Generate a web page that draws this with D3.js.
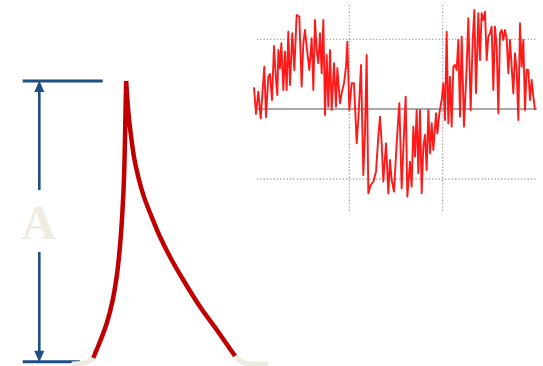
<!DOCTYPE html>
<html><head><meta charset="utf-8">
<script src="https://cdn.jsdelivr.net/npm/d3@7"></script>
<style>html,body{margin:0;padding:0;background:#fff;}svg{display:block;}</style>
</head><body>
<svg id="c" width="543" height="366"></svg>
<script>
// ---- Noisy signal (oscilloscope trace) ----
const sampleIdx = [12,18,25,32,38,43,48,55,60,66,72,78,82,85,90,94,100,105,110,115,120,127,133,140,148,155,160,165,170,178,185,190,195,200,205,210,215,220,225,230,235,240,245,252,258,262,270,275,282,288,292,298,305,312,320,326,333,340,345,350,355,362,370,378,385,390,395,400,408,415,420,425,432,440,448,455,462,467,472,480,485,490,495,500,505,510,515,520,525,530,535,540,545,550,558,562,568,575,580,585,590,595,600,605,610,615,620,625,630,635,642,650,655,662,668,673,678,685,690,695,700,705,710,715,720,725,730,735,740,745,750,755,760,765,770,775,780,785,790,795,800,805,810,815,820,825,830,835,840,845,850,855];
const amplitude = [65,-15,52,-28,57,127,-25,97,105,27,189,87,42,177,122,197,57,172,57,232,72,227,117,282,277,67,197,237,187,117,212,57,267,177,137,227,107,267,-18,162,7,177,-3,137,7,122,17,47,77,127,202,-3,77,77,-103,-13,132,-198,-68,162,-253,-228,-218,-188,-83,-23,-103,-218,-103,-253,-153,-213,-248,-103,17,-238,-73,37,-263,-158,-233,-53,-143,-3,-193,-3,-253,-113,-78,-183,-3,-133,-43,-123,-13,-73,-13,27,77,-33,232,-43,97,-53,127,132,117,207,-23,217,-53,127,272,-3,202,297,47,287,147,287,267,292,147,217,227,247,57,247,187,-13,227,237,207,237,212,107,207,127,47,167,117,-33,257,127,207,-3,117,117,27,87,37,-3];
const gridAmp = [-210, 209];      // dotted horizontal gridlines
const gridSample = [298, 578];    // dotted vertical gridlines

// ---- Pulse (amplitude A) ----
const riseT   = [0, 4.7, 9.5, 13.7, 16.5, 18.8, 20.5, 21.7, 22.4, 22.9, 23.2];
const riseA   = [0.014, 0.071, 0.137, 0.22, 0.303, 0.41, 0.529, 0.659, 0.802, 0.932, 1.0];
const decayT  = [23.2, 24.6, 26.4, 28.7, 31.7, 35.7, 41.1, 47, 54, 63.4, 75.2, 87.1, 100];
const decayA  = [1.0, 0.897, 0.813, 0.73, 0.659, 0.588, 0.517, 0.446, 0.375, 0.292, 0.197, 0.114, 0.02];
const tailLT  = [-15.2, -9.4, -3.7, 0];
const tailLA  = [-0.008, -0.006, 0.001, 0.014];
const tailRT  = [100, 103.5, 108.3, 123.5];
const tailRA  = [0.02, 0.004, -0.006, -0.008];
const ampLabel = "A";

const svg = d3.select("#c");

// scales for signal
const sx = d3.scaleLinear().domain([0, 879]).range([250, 543]);
const sy = d3.scaleLinear().domain([-210, 209]).range([179, 39.3]);

const gGrid = svg.append("g");
gGrid.selectAll("line.h").data(gridAmp).join("line")
  .attr("x1", 257).attr("x2", 537)
  .attr("y1", d => sy(d)).attr("y2", d => sy(d))
  .attr("stroke", "#a6a6a6").attr("stroke-width", 1.3).attr("stroke-dasharray", "1.3,2");
gGrid.selectAll("line.v").data(gridSample).join("line")
  .attr("x1", d => sx(d)).attr("x2", d => sx(d))
  .attr("y1", 5).attr("y2", 213)
  .attr("stroke", "#a6a6a6").attr("stroke-width", 1.3).attr("stroke-dasharray", "1.3,2");
// zero line
svg.append("line").attr("x1", 255).attr("x2", 537).attr("y1", sy(0)).attr("y2", sy(0))
  .attr("stroke", "#8c8c8c").attr("stroke-width", 1.4);

const sig = sampleIdx.map((s, i) => [s, amplitude[i]]);
svg.append("path").datum(sig)
  .attr("d", d3.line().x(d => sx(d[0])).y(d => sy(d[1])))
  .attr("fill", "none").attr("stroke", "#ff1a1a").attr("stroke-width", 1.9)
  .attr("stroke-linejoin", "round");

// scales for pulse
const px = d3.scaleLinear().domain([0, 100]).range([93.3, 235]);
const py = d3.scaleLinear().domain([0, 1]).range([361.7, 81]);

const blue = "#1f4e84";
// horizontal reference lines
svg.append("line").attr("x1", 22.7).attr("x2", 102.7).attr("y1", py(1)).attr("y2", py(1))
  .attr("stroke", blue).attr("stroke-width", 3);
svg.append("line").attr("x1", 22.7).attr("x2", 80).attr("y1", py(0)).attr("y2", py(0))
  .attr("stroke", blue).attr("stroke-width", 3);

// vertical arrow with gap for label
const ax = 39.3;
svg.append("line").attr("x1", ax).attr("x2", ax).attr("y1", py(1) + 8).attr("y2", 190)
  .attr("stroke", blue).attr("stroke-width", 2.6);
svg.append("line").attr("x1", ax).attr("x2", ax).attr("y1", 252).attr("y2", py(0) - 8)
  .attr("stroke", blue).attr("stroke-width", 2.6);
svg.append("path").attr("d", `M${ax},${py(1) - 0.5} L${ax - 5},${py(1) + 11} L${ax + 5},${py(1) + 11} Z`).attr("fill", blue);
svg.append("path").attr("d", `M${ax},${py(0) + 0.5} L${ax - 5},${py(0) - 11} L${ax + 5},${py(0) - 11} Z`).attr("fill", blue);

svg.append("text").attr("x", 38.5).attr("y", 239).attr("text-anchor", "middle")
  .attr("font-family", "Liberation Serif, 'DejaVu Serif', serif").attr("font-weight", "bold")
  .attr("font-size", 48).attr("fill", "#eeece1").text(ampLabel);

// beige tails
const beige = "#eeece1";
const tailLine = d3.line().x(d => px(d[0])).y(d => py(d[1])).curve(d3.curveMonotoneX);
svg.append("path").datum(tailLT.map((t, i) => [t, tailLA[i]]))
  .attr("d", tailLine).attr("fill", "none").attr("stroke", beige).attr("stroke-width", 5);
svg.append("path").datum(tailRT.map((t, i) => [t, tailRA[i]]))
  .attr("d", tailLine).attr("fill", "none").attr("stroke", beige).attr("stroke-width", 5);

// red pulse with peak
const pl = d3.line().x(d => px(d[0])).y(d => py(d[1])).curve(d3.curveCatmullRom.alpha(0.5));
const riseD = pl(riseT.map((t, i) => [t, riseA[i]]));
const decayD = pl(decayT.map((t, i) => [t, decayA[i]])).replace(/^M/, "L");
svg.append("path").attr("d", riseD + decayD)
  .attr("fill", "none").attr("stroke", "#c00000").attr("stroke-width", 4.5)
  .attr("stroke-linejoin", "bevel");
</script>
</body></html>
